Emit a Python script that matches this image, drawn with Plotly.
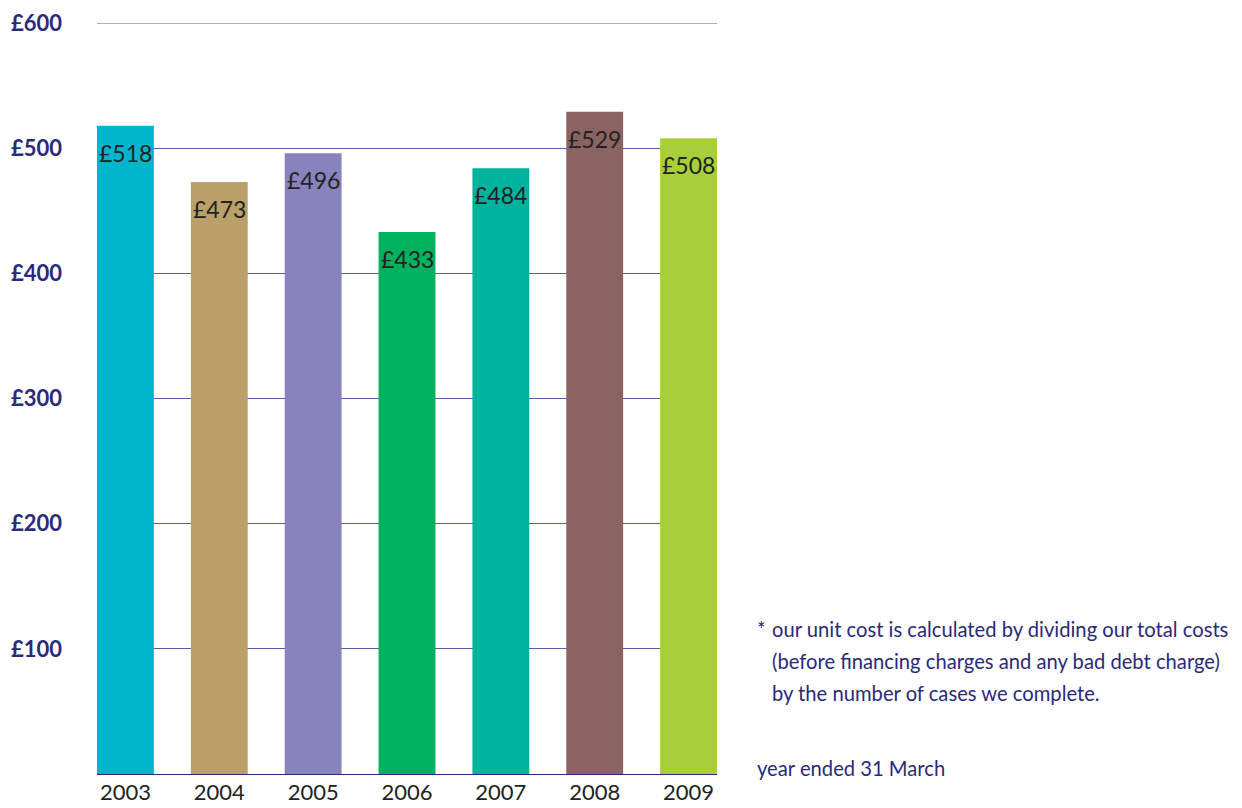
import plotly.graph_objects as go

years = ["2003", "2004", "2005", "2006", "2007", "2008", "2009"]
values = [518, 473, 496, 433, 484, 529, 508]
labels = ["£518", "£473", "£496", "£433", "£484", "£529", "£508"]
colors = ["#00B5CC", "#BCA06A", "#8882BD", "#00B15E", "#00B39C", "#8B6363", "#A8CF3A"]
ytick_vals = [100, 200, 300, 400, 500, 600]
ytick_text = ["£100", "£200", "£300", "£400", "£500", "£600"]
note_lines = [
    "our unit cost is calculated by dividing our total costs",
    "(before financing charges and any bad debt charge)",
    "by the number of cases we complete.",
]
footer = "year ended 31 March"

navy = "#2B2A7A"
pos = list(range(len(years)))

fig = go.Figure(go.Bar(
    x=pos, y=values, width=0.606,
    marker=dict(color=colors, line=dict(width=0)),
    hoverinfo="x+y",
))

for xi, v, lab in zip(pos, values, labels):
    fig.add_annotation(x=xi, y=v, xref="x", yref="y", text=lab, showarrow=False,
                       xanchor="center", yanchor="top", yshift=-11,
                       font=dict(family="Lato", size=23, color="#222222"))

fig.update_layout(
    width=1234, height=800,
    margin=dict(l=89, r=525, t=15, b=34, autoexpand=False),
    paper_bgcolor="white", plot_bgcolor="white",
    showlegend=False,
    font=dict(family="Lato", color=navy),
    xaxis=dict(
        range=[-0.303, 6.303], tickmode="array", tickvals=pos, ticktext=years,
        showgrid=False, zeroline=False, showline=False, ticks="",
        tickfont=dict(family="Lato", size=22, color="#222222"),
        ticklabelstandoff=3, automargin=False,
    ),
    yaxis=dict(
        range=[0, 600], tickmode="array", tickvals=ytick_vals, ticktext=ytick_text,
        showgrid=True, gridcolor="#5A5AA6", gridwidth=1,
        zeroline=True, zerolinecolor="#2B2A7A", zerolinewidth=1,
        showline=False, ticks="",
        tickfont=dict(family="Lato", size=22, color=navy, weight="bold"),
        ticklabelstandoff=34, automargin=False,
    ),
)

fig.add_shape(type="line", xref="paper", yref="y", x0=0, x1=1, y0=ytick_vals[-1], y1=ytick_vals[-1],
              line=dict(color="#5A5AA6", width=1), layer="below")

x0 = (755 - 97) / 620
x1 = (770 - 97) / 620
ys = [(774 - 629) / 751, (774 - 661) / 751, (774 - 693) / 751]
fs = 20.2
fig.add_annotation(x=x0, y=ys[0], xref="paper", yref="paper", text="*",
                   showarrow=False, xanchor="left", yanchor="middle",
                   font=dict(family="Lato", size=fs, color=navy))
for yy, line in zip(ys, note_lines):
    fig.add_annotation(x=x1, y=yy, xref="paper", yref="paper", text=line,
                       showarrow=False, xanchor="left", yanchor="middle",
                       font=dict(family="Lato", size=fs, color=navy))
fig.add_annotation(x=x0, y=(774 - 768) / 751, xref="paper", yref="paper", text=footer,
                   showarrow=False, xanchor="left", yanchor="middle",
                   font=dict(family="Lato", size=fs, color=navy))

fig.write_html("out.html")
